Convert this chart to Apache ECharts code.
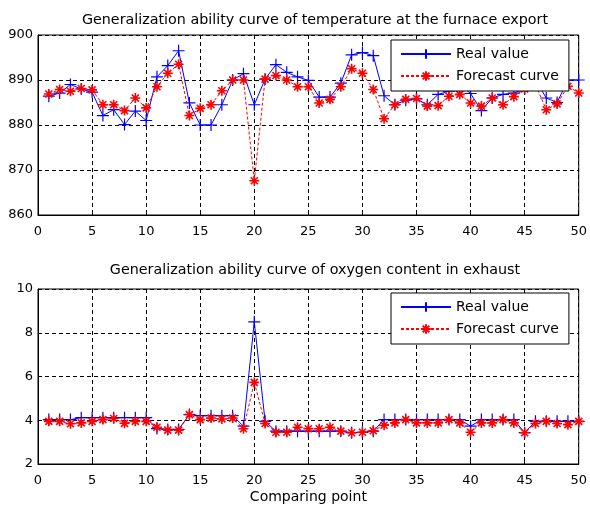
<!DOCTYPE html>
<html><head><meta charset="utf-8">
<script src="https://cdn.jsdelivr.net/npm/echarts@6/dist/echarts.min.js"></script>
<style>html,body{margin:0;padding:0;background:#fff}#c{width:590px;height:509px}</style>
</head><body><div id="c"></div>
<script>
const points = Array.from({length:50},(_,i)=>i+1);
const tempReal = [886.4,887.1,889,888,887.3,882.1,883.4,880.1,883.1,881,890.7,893.2,896.5,884.9,880,880,884.5,890,891.4,884.5,890.2,893.4,891.7,890.7,889.9,886.2,886.2,889.3,895.6,896.1,895.4,886.5,884.5,885.5,885.8,884.5,886.8,887.5,889,887,883.2,886,886.8,887.1,888,890,886,885,890,890];
const tempForecast = [886.9,887.9,887.5,888.1,887.8,884.5,884.5,883.2,886,883.8,888.5,891.5,893.5,882.1,883.7,884.5,887.6,890,890,867.6,890.2,891,890,888.5,888.5,884.9,885.7,888.5,892.5,891.5,887.9,881.4,884.5,885.7,885.9,884.2,884.3,886.4,886.8,884.9,884.2,886,884.5,886.3,888,889,883.4,884.7,888.6,887.1];
const oxyReal = [4.03,4.03,4.03,4.12,4.12,4.12,4.12,4.12,4.12,4.12,3.62,3.58,3.58,4.26,4.21,4.21,4.21,4.21,3.73,8.5,3.95,3.5,3.5,3.5,3.5,3.5,3.5,3.5,3.43,3.45,3.5,4.03,4.03,4.03,4.03,4.03,4.03,4.03,4.03,3.73,4.03,4.03,4.03,4.03,3.43,3.95,3.95,3.95,3.95,3.95];
const oxyForecast = [3.95,3.95,3.84,3.88,3.95,4.03,4.08,3.86,3.95,3.95,3.68,3.55,3.55,4.26,4.03,4.1,4.06,4.1,3.61,5.73,3.85,3.45,3.45,3.68,3.61,3.61,3.68,3.5,3.43,3.45,3.52,3.77,3.88,4.03,3.88,3.88,3.88,4.03,3.88,3.45,3.88,3.88,4.03,3.88,3.43,3.85,3.95,3.85,3.8,3.95];
const titles = ['Generalization ability curve of temperature at the furnace export','Generalization ability curve of oxygen content in exhaust'];
const seriesNames = ['Real value','Forecast curve'];
const xLabel = 'Comparing point';

const FONT = 'DejaVu Sans';
const plusSym = 'path://M5,0L5,10M0,5L10,5';
const starSym = 'path://M5,0L5,10M0,5L10,5M1.5,1.5L8.5,8.5M1.5,8.5L8.5,1.5';
const pair = (ys)=>points.map((x,i)=>[x,ys[i]]);

function realSeries(idx, ys){
  return {name:seriesNames[0], type:'line', xAxisIndex:idx, yAxisIndex:idx, data:pair(ys),
    symbol:plusSym, symbolSize:12, showSymbol:true, animation:false,
    lineStyle:{color:'#0000ff', width:1},
    itemStyle:{color:'#0000ff', borderColor:'#0000ff', borderWidth:1.2}, z:3};
}
function fcSeries(idx, ys){
  return {name:seriesNames[1], type:'line', xAxisIndex:idx, yAxisIndex:idx, data:pair(ys),
    symbol:starSym, symbolSize:10, showSymbol:true, animation:false,
    lineStyle:{color:'#ff0000', width:1, type:[3,2]},
    itemStyle:{color:'#ff0000', borderColor:'#ff0000', borderWidth:1.6}, z:4};
}
const axisCommon = {
  axisLine:{show:true, onZero:false, lineStyle:{color:'#000', width:1}},
  axisTick:{show:true, inside:true, length:4, lineStyle:{color:'#000'}},
  splitLine:{show:true, lineStyle:{color:'#000', type:[4,3], width:1}},
  axisLabel:{color:'#000', fontFamily:FONT, fontSize:13}
};
function xAx(idx, extra){
  return Object.assign({type:'value', gridIndex:idx, min:0, max:50, interval:5}, JSON.parse(JSON.stringify(axisCommon)), extra||{});
}
function yAx(idx, min, max, iv){
  return Object.assign({type:'value', gridIndex:idx, min:min, max:max, interval:iv}, JSON.parse(JSON.stringify(axisCommon)));
}
const xa0 = xAx(0); xa0.axisLabel.margin = 10;
const xa1 = xAx(1, {name:xLabel, nameLocation:'middle', nameGap:26, nameTextStyle:{color:'#000', fontFamily:FONT, fontSize:14}});
xa1.axisLabel.margin = 10;
const ya0 = yAx(0, 860, 900, 10); ya0.axisLabel.margin = 5;
const ya1 = yAx(1, 2, 10, 2); ya1.axisLabel.margin = 5;

function legend(top){
  return {data:seriesNames, orient:'vertical', left:391, top:top, itemWidth:50, itemHeight:12, itemGap:8,
    padding:[7,10,8,9], borderColor:'#000', borderWidth:1, backgroundColor:'#fff',
    textStyle:{color:'#000', fontFamily:FONT, fontSize:14}, selectedMode:false, z:10};
}

const chart = echarts.init(document.getElementById('c'), null, {renderer:'canvas'});
chart.setOption({
  backgroundColor:'#fff',
  animation:false,
  title:[
    {text:titles[0], left:310, top:8, textAlign:'center', textStyle:{color:'#000', fontWeight:'normal', fontFamily:FONT, fontSize:14.3}},
    {text:titles[1], left:310, top:258, textAlign:'center', textStyle:{color:'#000', fontWeight:'normal', fontFamily:FONT, fontSize:14.3}}
  ],
  legend:[legend(40), legend(293)],
  grid:[
    {left:38, right:7, top:35, height:180, show:true, borderColor:'#000', borderWidth:1, backgroundColor:'#fff'},
    {left:38, right:7, top:289, height:175, show:true, borderColor:'#000', borderWidth:1, backgroundColor:'#fff'}
  ],
  xAxis:[xa0, xa1],
  yAxis:[ya0, ya1],
  series:[realSeries(0,tempReal), fcSeries(0,tempForecast), realSeries(1,oxyReal), fcSeries(1,oxyForecast)]
});
</script></body></html>
